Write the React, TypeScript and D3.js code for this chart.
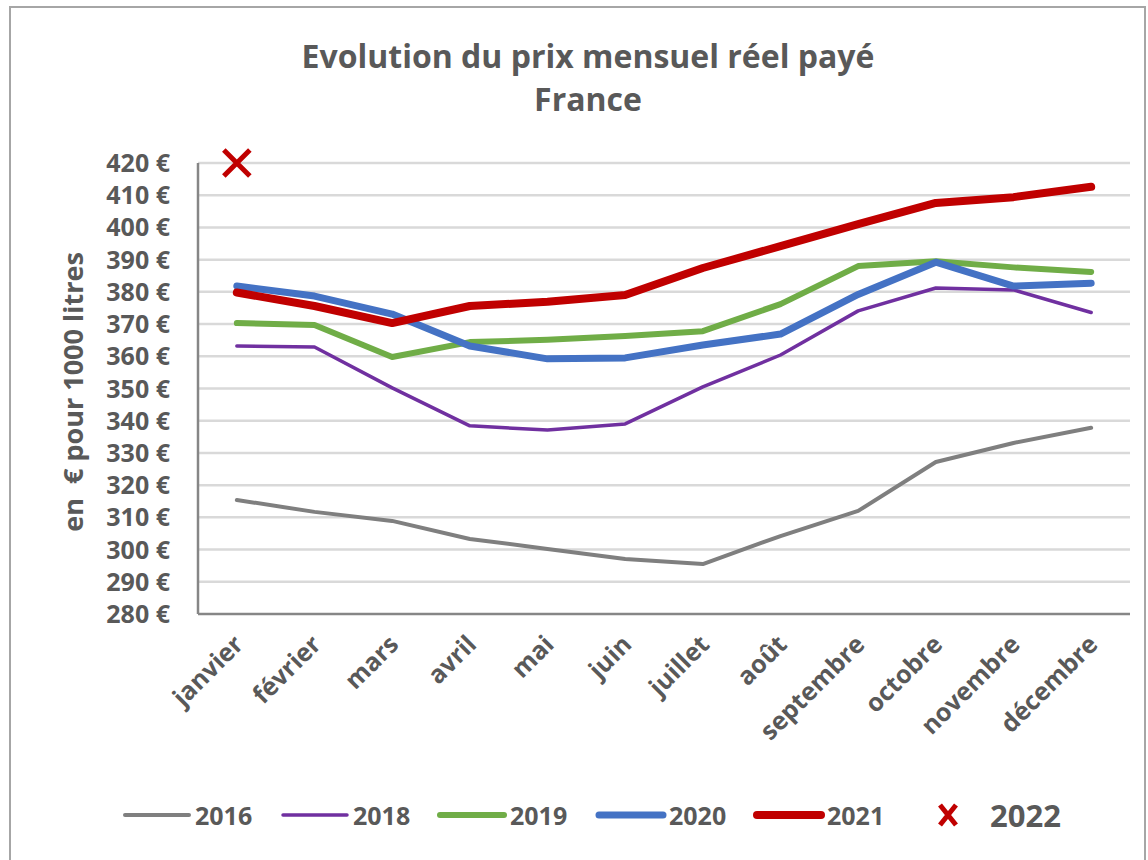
import React, { useEffect, useRef } from "react";
import * as d3 from "d3";

const months = [
  "janvier",
  "février",
  "mars",
  "avril",
  "mai",
  "juin",
  "juillet",
  "août",
  "septembre",
  "octobre",
  "novembre",
  "décembre",
];

const yTicks = [280, 290, 300, 310, 320, 330, 340, 350, 360, 370, 380, 390, 400, 410, 420];

const prix2016 = [315.4, 311.7, 308.9, 303.3, 300.2, 297.1, 295.5, 304.2, 312.0, 327.2, 333.1, 337.8];
const prix2018 = [363.2, 362.9, 350.2, 338.4, 337.1, 339.0, 350.5, 360.4, 374.1, 381.2, 380.6, 373.6];
const prix2019 = [370.3, 369.7, 359.8, 364.4, 365.1, 366.3, 367.8, 376.2, 388.0, 389.5, 387.6, 386.2];
const prix2020 = [381.8, 378.7, 373.1, 363.2, 359.2, 359.5, 363.5, 366.9, 379.2, 389.2, 381.8, 382.7];
const prix2021 = [379.8, 375.6, 370.3, 375.6, 376.9, 379.0, 387.4, 394.2, 401.0, 407.6, 409.4, 412.6];
// 2022: une seule valeur (janvier)
const prix2022 = [420];

const seriesList = [
  { name: "2016", values: prix2016, color: "#7f7f7f", width: 4 },
  { name: "2018", values: prix2018, color: "#7030a0", width: 3.5 },
  { name: "2019", values: prix2019, color: "#70ad47", width: 6 },
  { name: "2020", values: prix2020, color: "#4472c4", width: 7 },
  { name: "2021", values: prix2021, color: "#c00000", width: 8 },
];

const W = 1148;
const H = 860;
const FONT = "'Open Sans', sans-serif";
const TXT = "#595959";

export default function App() {
  const ref = useRef<SVGSVGElement | null>(null);

  useEffect(() => {
    drawChart();
  }, []);

  function drawChart() {
    const svg = d3.select(ref.current);
    svg.selectAll("*").remove();

    // cadre
    svg
      .append("rect")
      .attr("x", 10)
      .attr("y", 7)
      .attr("width", 1135)
      .attr("height", 900)
      .attr("fill", "white")
      .attr("stroke", "#a6a6a6")
      .attr("stroke-width", 2);

    // titre
    const title = svg
      .append("text")
      .attr("text-anchor", "middle")
      .attr("fill", TXT)
      .style("font-family", FONT)
      .style("font-weight", "bold")
      .style("font-size", "32px");
    title.append("tspan").attr("x", 588).attr("y", 68).text("Evolution du prix mensuel réel payé");
    title.append("tspan").attr("x", 588).attr("y", 111).text("France");

    const left = 198;
    const right = 1130;
    const x = d3.scaleBand().domain(months).range([left, right]).padding(0);
    const cx = (m: string) => (x(m) as number) + x.bandwidth() / 2;
    const y = d3.scaleLinear().domain([280, 420]).range([614, 163]);

    // grille
    svg
      .append("g")
      .selectAll("line")
      .data(yTicks.filter((t) => t > 280))
      .join("line")
      .attr("x1", left)
      .attr("x2", right)
      .attr("y1", (d) => y(d))
      .attr("y2", (d) => y(d))
      .attr("stroke", "#d9d9d9")
      .attr("stroke-width", 2.5);

    // axes
    svg
      .append("line")
      .attr("x1", left)
      .attr("x2", left)
      .attr("y1", y(420))
      .attr("y2", y(280))
      .attr("stroke", "#868686")
      .attr("stroke-width", 2.5);
    svg
      .append("line")
      .attr("x1", left)
      .attr("x2", right)
      .attr("y1", y(280))
      .attr("y2", y(280))
      .attr("stroke", "#868686")
      .attr("stroke-width", 2.5);

    // étiquettes Y
    svg
      .append("g")
      .selectAll("text")
      .data(yTicks)
      .join("text")
      .attr("x", 170)
      .attr("y", (d) => y(d) + 9)
      .attr("text-anchor", "end")
      .attr("fill", TXT)
      .style("font-family", FONT)
      .style("font-weight", "bold")
      .style("font-size", "25px")
      .text((d) => `${d} €`);

    // titre axe Y
    svg
      .append("text")
      .attr("transform", "translate(83,392) rotate(-90)")
      .attr("text-anchor", "middle")
      .attr("fill", TXT)
      .style("font-family", FONT)
      .style("font-weight", "bold")
      .style("font-size", "27px")
      .style("white-space", "pre")
      .text("en  € pour 1000 litres");

    // étiquettes X
    svg
      .append("g")
      .selectAll("text")
      .data(months)
      .join("text")
      .attr("transform", (d) => `translate(${cx(d) + 8},646) rotate(-45)`)
      .attr("text-anchor", "end")
      .attr("fill", TXT)
      .style("font-family", FONT)
      .style("font-weight", "bold")
      .style("font-size", "25px")
      .text((d) => d);

    // séries
    const line = d3
      .line<number>()
      .x((_, i) => cx(months[i]))
      .y((d) => y(d));

    svg
      .append("g")
      .selectAll("path")
      .data(seriesList)
      .join("path")
      .attr("d", (s) => line(s.values))
      .attr("fill", "none")
      .attr("stroke", (s) => s.color)
      .attr("stroke-width", (s) => s.width)
      .attr("stroke-linecap", "round")
      .attr("stroke-linejoin", "round");

    // 2022 marqueur croix
    const cross = (g: any, px: number, py: number, rx: number, ry: number, w: number) => {
      g.append("path")
        .attr("d", `M${px - rx},${py - ry}L${px + rx},${py + ry}M${px - rx},${py + ry}L${px + rx},${py - ry}`)
        .attr("stroke", "#c00000")
        .attr("stroke-width", w)
        .attr("fill", "none");
    };
    prix2022.forEach((v, i) => cross(svg, cx(months[i]), y(v), 13, 13, 5));

    // légende
    const legendY = 815;
    const legendX = [125, 283, 440, 599, 757];
    seriesList.forEach((s, i) => {
      const lx = legendX[i];
      svg
        .append("line")
        .attr("x1", lx)
        .attr("x2", lx + 64)
        .attr("y1", legendY)
        .attr("y2", legendY)
        .attr("stroke", s.color)
        .attr("stroke-width", s.width)
        .attr("stroke-linecap", "round");
      svg
        .append("text")
        .attr("x", lx + 70)
        .attr("y", legendY + 10)
        .attr("fill", TXT)
        .style("font-family", FONT)
        .style("font-weight", "bold")
        .style("font-size", "25px")
        .text(s.name);
    });
    cross(svg, 948, legendY, 8, 10, 5);
    svg
      .append("text")
      .attr("x", 990)
      .attr("y", legendY + 12)
      .attr("fill", TXT)
      .style("font-family", FONT)
      .style("font-weight", "bold")
      .style("font-size", "31px")
      .text("2022");
  }

  return (
    <div style={{ position: "absolute", left: 0, top: 0 }}>
      <svg ref={ref} width={W} height={H} style={{ display: "block", background: "white" }} />
    </div>
  );
}
